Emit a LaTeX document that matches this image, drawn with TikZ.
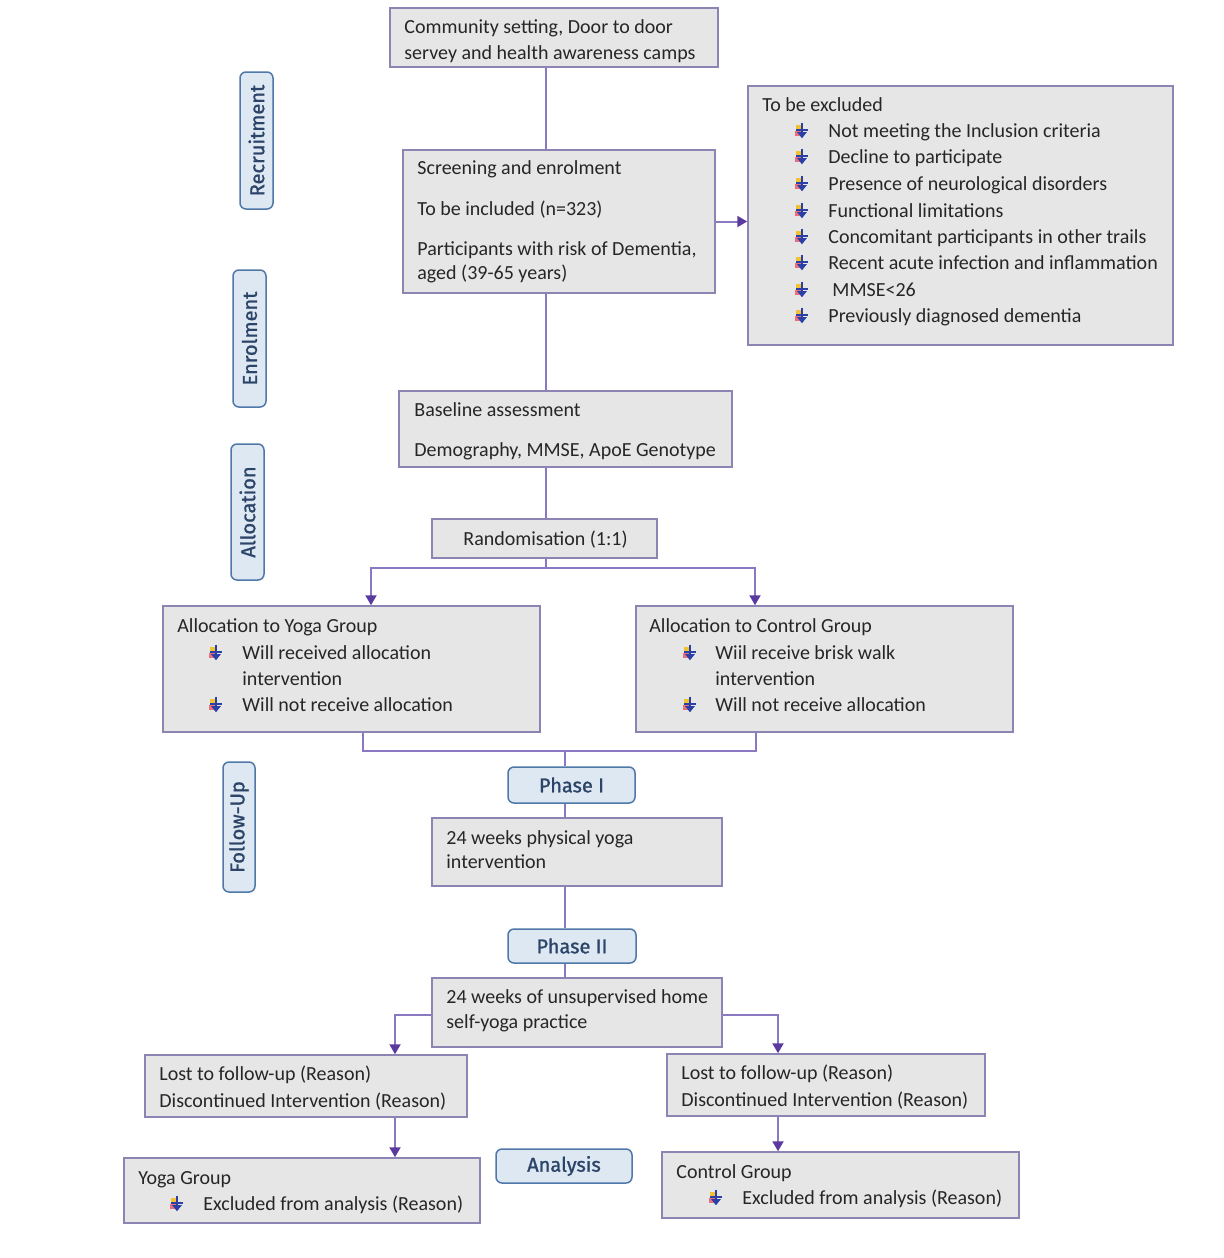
\documentclass[tikz,border=0pt]{standalone}
\usepackage{fontspec}
\setmainfont{Carlito}
\newfontfamily\labfont[FakeBold=1.2]{Fira Sans}
\usetikzlibrary{arrows.meta}
\definecolor{boxfill}{HTML}{E6E6E6}
\definecolor{boxdraw}{HTML}{8E84B4}
\definecolor{linecol}{HTML}{8A78C2}
\definecolor{arrcol}{HTML}{5A3A9E}
\definecolor{tagfill}{HTML}{DDE8F3}
\definecolor{tagdraw}{HTML}{4F77A8}
\definecolor{tagtext}{HTML}{2B4468}
\definecolor{bulblue}{HTML}{2A3FA8}
\definecolor{bulyel}{HTML}{F2C230}
\definecolor{bulred}{HTML}{E8707A}
\begin{document}
\begin{tikzpicture}[x=0.5pt,y=-0.5pt,
  box/.style={draw=boxdraw, fill=boxfill, line width=0.75pt, inner sep=0pt, rectangle},
  tag/.style={draw=tagdraw, fill=tagfill, rounded corners=3pt, line width=0.75pt, inner sep=0pt,
     font=\labfont\fontsize{10}{12}\selectfont, text=tagtext},
  txt/.style={anchor=base west, inner sep=0pt, font=\fontsize{10}{12}\selectfont, text=black!85},
  conn/.style={draw=linecol, line width=1pt},
  arr/.style={conn, -{Triangle[length=5pt,width=5.5pt,color=arrcol]}},
  wb/.pic={
    \begin{scope}[scale=1.2]
    \fill[bulyel] (-5,-5) rectangle (0,-1);
    \fill[bulred] (-6,0) rectangle (-1,4);
    \draw[bulblue, line width=0.9pt] (-5,-1) -- (5,-1);
    \draw[bulblue, line width=1.1pt] (0,-7) -- (0,2);
    \fill[bulblue] (-4,1) -- (4,1) -- (0,6) -- cycle;
    \end{scope}
  }]
\useasboundingbox (0,0) rectangle (1224,1258);

% boxes
\node[box, minimum width=164pt, minimum height=29.5pt] (comm) at (554,37.5) {};
\node[box, minimum width=212.5pt, minimum height=129.5pt] (excl) at (960.5,215.5) {};
\node[box, minimum width=156pt, minimum height=71.5pt] (screen) at (559,221.5) {};
\node[box, minimum width=166.5pt, minimum height=38pt] (base) at (565.5,429) {};
\node[box, minimum width=112.5pt, minimum height=19.5pt] (rand) at (544.5,538.5) {};
\node[box, minimum width=188.5pt, minimum height=63pt] (yalloc) at (351.5,669) {};
\node[box, minimum width=188.5pt, minimum height=63pt] (calloc) at (824.5,669) {};
\node[box, minimum width=145pt, minimum height=34pt] (phys) at (577,852) {};
\node[box, minimum width=145pt, minimum height=34.5pt] (unsup) at (577,1012.5) {};
\node[box, minimum width=161pt, minimum height=31pt] (lostL) at (306,1086) {};
\node[box, minimum width=159pt, minimum height=31pt] (lostR) at (826,1085) {};
\node[box, minimum width=178pt, minimum height=32.5pt] (yogaG) at (302,1190.5) {};
\node[box, minimum width=178.5pt, minimum height=33pt] (ctrlG) at (840.5,1185) {};

% tags
\node[tag, minimum width=63.5pt, minimum height=18pt] (ph1) at (571.5,785) {Phase I};
\node[tag, minimum width=64pt, minimum height=17pt] (ph2) at (572,946) {Phase II};
\node[tag, minimum width=68pt, minimum height=17pt] (anal) at (564,1166) {Analysis};
\node[tag, rotate=90, minimum width=68.5pt, minimum height=16.5pt] (lrec) at (256.5,140.5) {Recruitment};
\node[tag, rotate=90, minimum width=68.5pt, minimum height=16.5pt] (lenr) at (249.5,338.5) {Enrolment};
\node[tag, rotate=90, minimum width=68pt, minimum height=16.5pt] (lall) at (247.5,512) {Allocation};
\node[tag, rotate=90, minimum width=65pt, minimum height=16pt] (lfol) at (239,827) {Follow-Up};

% texts
\node[txt] (t1a) at (404,33) {Community setting, Door to door};
\node[txt] (t1b) at (404,59) {servey and health awareness camps};

\node[txt] (t3a) at (417,174) {Screening and enrolment};
\node[txt] (t3b) at (417,215) {To be included (n=323)};
\node[txt] (t3c) at (417,255) {Participants with risk of Dementia,};
\node[txt] (t3d) at (417,279) {aged (39-65 years)};

\node[txt] (t2a) at (762,111) {To be excluded};
\node[txt] (e1) at (828,137) {Not meeting the Inclusion criteria};
\node[txt] (e2) at (828,163) {Decline to participate};
\node[txt] (e3) at (828,190) {Presence of neurological disorders};
\node[txt] (e4) at (828,217) {Functional limitations};
\node[txt] (e5) at (828,243) {Concomitant participants in other trails};
\node[txt] (e6) at (828,269) {Recent acute infection and inflammation};
\node[txt] (e7) at (832,296) {MMSE<26};
\node[txt] (e8) at (828,322) {Previously diagnosed dementia};
\foreach \y in {131,157,184,211,237,263,290,316} \pic at (802,\y) {wb};

\node[txt] (t4a) at (414,416) {Baseline assessment};
\node[txt] (t4b) at (414,456) {Demography, MMSE, ApoE Genotype};

\node[txt] (t5) at (463,545) {Randomisation (1:1)};

\node[txt] (t6a) at (177,632) {Allocation to Yoga Group};
\node[txt] (t6b) at (242,659) {Will received allocation};
\node[txt] (t6c) at (242,685) {intervention};
\node[txt] (t6d) at (242,711) {Will not receive allocation};
\pic at (216,653) {wb};
\pic at (216,705) {wb};

\node[txt] (t7a) at (649,632) {Allocation to Control Group};
\node[txt] (t7b) at (715,659) {Wiil receive brisk walk};
\node[txt] (t7c) at (715,685) {intervention};
\node[txt] (t7d) at (715,711) {Will not receive allocation};
\pic at (690,653) {wb};
\pic at (690,705) {wb};

\node[txt] (t9a) at (446,844) {24 weeks physical yoga};
\node[txt] (t9b) at (446,868) {intervention};

\node[txt] (t11a) at (446,1003) {24 weeks of unsupervised home};
\node[txt] (t11b) at (446,1028) {self-yoga practice};

\node[txt] (t12a) at (159,1080) {Lost to follow-up (Reason)};
\node[txt] (t12b) at (159,1107) {Discontinued Intervention (Reason)};
\node[txt] (t13a) at (681,1079) {Lost to follow-up (Reason)};
\node[txt] (t13b) at (681,1106) {Discontinued Intervention (Reason)};

\node[txt] (t14a) at (138,1184) {Yoga Group};
\node[txt] (t14b) at (203,1210) {Excluded from analysis (Reason)};
\pic at (177,1204) {wb};
\node[txt] (t16a) at (676,1178) {Control Group};
\node[txt] (t16b) at (742,1204) {Excluded from analysis (Reason)};
\pic at (716,1198) {wb};

% connector coordinates
\coordinate (sp) at (546,0);
\coordinate (sY) at (371,568);
\coordinate (sC) at (755,568);
\coordinate (jY) at (363,751);
\coordinate (jC) at (756,751);
\coordinate (jm) at (565,751);
\coordinate (lY) at (395,1015);
\coordinate (lC) at (778,1015);

% connectors
\draw[conn] (comm.south -| sp) -- (screen.north -| sp);
\draw[conn] (screen.south -| sp) -- (base.north -| sp);
\draw[conn] (base.south -| sp) -- (rand.north -| sp);
\draw[arr] (screen.east) -- (excl.west |- screen.east);
\draw[conn] (rand.south -| sp) -- (sp |- sY);
\draw[arr] (sp |- sY) -| (yalloc.north -| sY);
\draw[arr] (sp |- sC) -| (calloc.north -| sC);
\draw[conn] (yalloc.south -| jY) -- (jY) -- (jC) -- (calloc.south -| jC);
\draw[conn] (jm) -- (ph1.north -| jm);
\draw[conn] (ph1.south -| jm) -- (phys.north -| jm);
\draw[conn] (phys.south -| jm) -- (ph2.north -| jm);
\draw[conn] (ph2.south -| jm) -- (unsup.north -| jm);
\draw[arr] (unsup.west |- lY) -| (lostL.north -| lY);
\draw[arr] (unsup.east |- lC) -| (lostR.north -| lC);
\draw[arr] (lostL.south -| lY) -- (yogaG.north -| lY);
\draw[arr] (lostR.south -| lC) -- (ctrlG.north -| lC);
\end{tikzpicture}
\end{document}
